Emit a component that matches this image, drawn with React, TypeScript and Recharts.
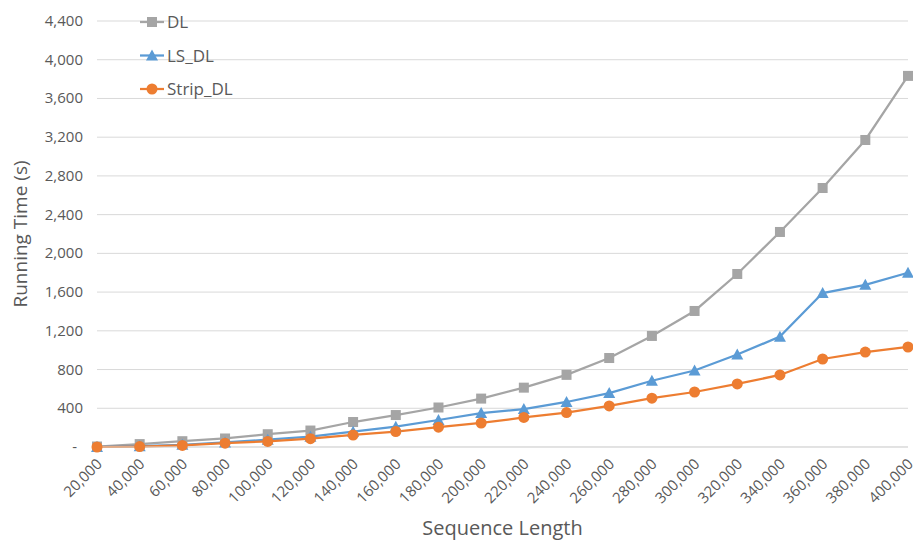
import React from 'react';
import { LineChart, Line, XAxis, YAxis, CartesianGrid } from 'recharts';

const categories = [20000, 40000, 60000, 80000, 100000, 120000, 140000, 160000, 180000, 200000, 220000, 240000, 260000, 280000, 300000, 320000, 340000, 360000, 380000, 400000];
const dlValues = [5, 30, 60, 88, 132, 170, 258, 330, 408, 500, 613, 745, 919, 1147, 1405, 1787, 2221, 2675, 3171, 3833];
const lsDlValues = [0, 8, 22, 47, 75, 106, 158, 210, 279, 350, 392, 465, 557, 684, 790, 955, 1140, 1590, 1675, 1800];
const stripDlValues = [0, 5, 16, 40, 58, 86, 124, 160, 205, 248, 305, 356, 424, 504, 568, 651, 744, 909, 981, 1033];
const yTicks = [0, 400, 800, 1200, 1600, 2000, 2400, 2800, 3200, 3600, 4000, 4400];

const seriesNames = ['DL', 'LS_DL', 'Strip_DL'];
const seriesColors = ['#A5A5A5', '#5B9BD5', '#ED7D31'];

const data = categories.map((c, i) => ({
  cat: c,
  DL: dlValues[i],
  LS_DL: lsDlValues[i],
  Strip_DL: stripDlValues[i],
}));

const FONT = '"Open Sans", "DejaVu Sans", sans-serif';
const TEXT = '#595959';

const fmt = (v: number) => v.toLocaleString('en-US');

function Marker({ kind, cx, cy, color }: { kind: number; cx: number; cy: number; color: string }) {
  if (cx == null || cy == null || isNaN(cx) || isNaN(cy)) return null;
  if (kind === 0) return <rect x={cx - 5} y={cy - 5} width={10} height={10} fill={color} />;
  if (kind === 1) return <polygon points={`${cx},${cy - 6} ${cx + 6},${cy + 5} ${cx - 6},${cy + 5}`} fill={color} />;
  return <circle cx={cx} cy={cy} r={5.5} fill={color} />;
}

const makeDot = (kind: number, color: string) => (props: any) => (
  <Marker key={`${kind}-${props.index}`} kind={kind} cx={props.cx} cy={props.cy} color={color} />
);

const YTick = (props: any) => {
  const { x, y, payload } = props;
  const v = payload.value;
  return (
    <text x={v === 0 ? x - 12 : x - 6} y={y} dy={5} textAnchor="end" fontSize={15} fill={TEXT} fontFamily={FONT}>
      {v === 0 ? '-' : fmt(v)}
    </text>
  );
};

const XTick = (props: any) => {
  const { x, y, payload } = props;
  return (
    <g transform={`translate(${x + 6},${y + 10})`}>
      <text x={0} y={0} textAnchor="end" transform="rotate(-45)" fontSize={15} fill={TEXT} fontFamily={FONT}>
        {fmt(payload.value)}
      </text>
    </g>
  );
};

const LegendOverlay = () => (
  <svg width={140} height={100} style={{ position: 'absolute', left: 140, top: 10 }}>
    {seriesNames.map((n, i) => {
      const cy = 12 + i * 33.5;
      return (
        <g key={n}>
          <line x1={0} x2={24} y1={cy} y2={cy} stroke={seriesColors[i]} strokeWidth={2.25} />
          <Marker kind={i} cx={12} cy={cy} color={seriesColors[i]} />
          <text x={27} y={cy} dy={6} fontSize={17} fill={TEXT} fontFamily={FONT}>{n}</text>
        </g>
      );
    })}
  </svg>
);

export default function App() {
  return (
    <div style={{ position: 'absolute', left: 0, top: 0, width: 913, height: 540, background: '#fff' }}>
      <LineChart width={913} height={540} data={data} margin={{ top: 21, right: 5, bottom: 0, left: 0 }}>
        <CartesianGrid vertical={false} stroke="#D9D9D9" strokeWidth={1} />
        <XAxis
          dataKey="cat"
          tick={<XTick />}
          tickLine={false}
          axisLine={{ stroke: '#D9D9D9' }}
          height={93}
          interval={0}
          label={{ value: 'Sequence Length', position: 'insideBottom', offset: 5, fontSize: 20, fill: TEXT, fontFamily: FONT }}
        />
        <YAxis
          domain={[0, 4400]}
          ticks={yTicks}
          tick={<YTick />}
          tickLine={false}
          axisLine={false}
          width={97}
          interval={0}
          label={{ value: 'Running Time (s)', angle: -90, position: 'insideLeft', offset: 0, dx: 20, fontSize: 19, fill: TEXT, fontFamily: FONT, style: { textAnchor: 'middle' } }}
        />
        {seriesNames.map((n, i) => (
          <Line
            key={n}
            dataKey={n}
            type="linear"
            stroke={seriesColors[i]}
            strokeWidth={2.25}
            dot={makeDot(i, seriesColors[i])}
            activeDot={false}
            isAnimationActive={false}
          />
        ))}
      </LineChart>
      <LegendOverlay />
    </div>
  );
}
